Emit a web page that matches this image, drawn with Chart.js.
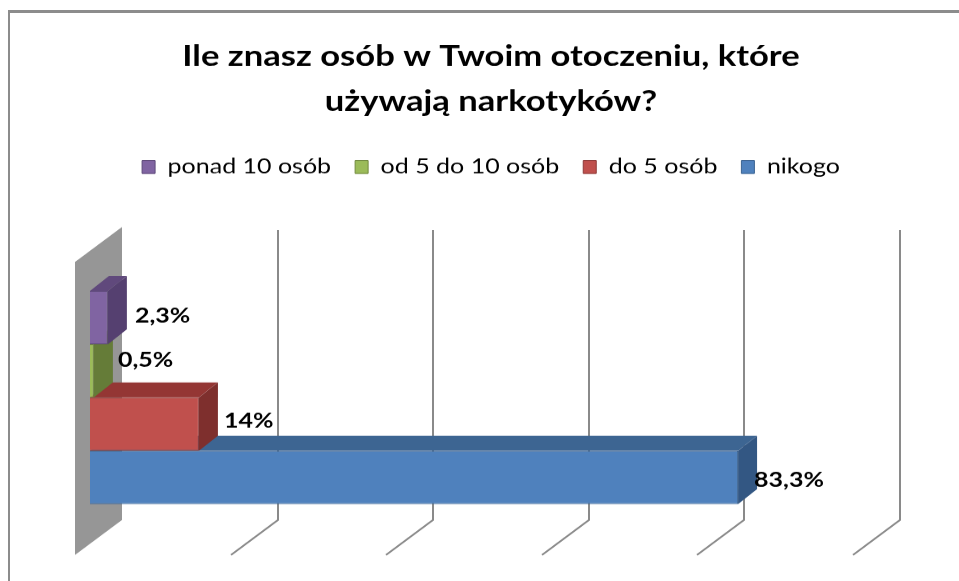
<!DOCTYPE html>
<html><head><meta charset="utf-8">
<script src="https://cdn.jsdelivr.net/npm/chart.js@4"></script>
<style>
html,body{margin:0;padding:0;background:#fff;width:959px;height:581px;overflow:hidden}
#frame{position:absolute;left:8px;top:10px;width:1000px;height:700px;border-top:3px solid #8c8c8c;border-left:2px solid #8c8c8c}
#c{position:absolute;left:0;top:0}
</style></head><body>
<div id="frame"></div>
<canvas id="c" width="959" height="697" style="width:959px;height:581px"></canvas>
<script>
const categories = [''];
const seriesNames = ['ponad 10 osób', 'od 5 do 10 osób', 'do 5 osób', 'nikogo'];
const ponad10 = [2.3];
const od5do10 = [0.5];
const do5 = [14];
const nikogo = [83.3];
const tickValues = [0, 20, 40, 60, 80, 100];
const titleLines = ['Ile znasz osób w Twoim otoczeniu, które', 'używają narkotyków?'];

const frontColors = ['#8064A2', '#9BBB59', '#C0504D', '#4F81BD'];
const topColors = ['#60497C', '#75903F', '#943634', '#3D6592'];
const sideColors = ['#554070', '#657C38', '#7E2F2D', '#335783'];
const edgeColors = ['#5E4A7A', '#71893F', '#8E3B39', '#3B6391'];

// canvas is drawn 1.2x taller and shown squeezed to 581px (original chart was stretched wide)
const K = 697 / 581;
const labelNudge = [[2, -2], [-1, -11], [0, -3], [-9, 3]];
const DX = 19, DY = 15 * K;
const FRONT = {x: -15, y: 11 * K}, BACK = {x: 32, y: -24 * K};

const TITLE_PAD_TOP = 41, TITLE_LINE = 54, LEG_FONT = 25, LEG_PAD = 24;
const TITLE_PAD_BOTTOM = 167 * K - (TITLE_PAD_TOP + 2 * TITLE_LINE + LEG_PAD + LEG_FONT / 2);
const LEGEND_BOTTOM = TITLE_PAD_TOP + 2 * TITLE_LINE + TITLE_PAD_BOTTOM + LEG_PAD + LEG_FONT + 10;

function fmt(v) { return String(v).replace('.', ',') + '%'; }

const depthPlugin = {
  id: 'depth3d',
  beforeDatasetsDraw(chart) {
    const ctx = chart.ctx, xs = chart.scales.x, a = chart.chartArea;
    const x0 = xs.getPixelForValue(tickValues[0]);
    ctx.save();
    ctx.fillStyle = '#969696';
    ctx.beginPath();
    ctx.moveTo(x0 + FRONT.x, a.top + FRONT.y);
    ctx.lineTo(x0 + BACK.x, a.top + BACK.y);
    ctx.lineTo(x0 + BACK.x, a.bottom + BACK.y);
    ctx.lineTo(x0 + FRONT.x, a.bottom + FRONT.y);
    ctx.closePath();
    ctx.fill();
    ctx.strokeStyle = '#8a8a8a';
    ctx.lineWidth = 2;
    tickValues.slice(1).forEach(v => {
      const x = Math.round(xs.getPixelForValue(v));
      ctx.beginPath();
      ctx.moveTo(x + BACK.x, a.top + BACK.y + 3 * K);
      ctx.lineTo(x + BACK.x, a.bottom + BACK.y);
      ctx.lineTo(x + FRONT.x, a.bottom + FRONT.y);
      ctx.stroke();
    });
    ctx.restore();
  },
  afterDatasetDraw(chart, args) {
    const ctx = chart.ctx, i = args.index;
    ctx.save();
    args.meta.data.forEach(el => {
      const p = el.getProps(['x', 'y', 'base', 'height'], true);
      const l = Math.min(p.x, p.base), r = Math.max(p.x, p.base);
      const t = p.y - p.height / 2, b = p.y + p.height / 2;
      ctx.fillStyle = topColors[i];
      ctx.beginPath();
      ctx.moveTo(l, t); ctx.lineTo(r, t); ctx.lineTo(r + DX, t - DY); ctx.lineTo(l + DX, t - DY);
      ctx.closePath(); ctx.fill();
      ctx.fillStyle = sideColors[i];
      ctx.beginPath();
      ctx.moveTo(r, t); ctx.lineTo(r + DX, t - DY); ctx.lineTo(r + DX, b - DY); ctx.lineTo(r, b);
      ctx.closePath(); ctx.fill();
    });
    ctx.restore();
  },
  afterDatasetsDraw(chart) {
    const ctx = chart.ctx;
    ctx.save();
    ctx.font = 'bold 25px Lato';
    ctx.fillStyle = '#000';
    ctx.textBaseline = 'middle';
    ctx.textAlign = 'left';
    chart.data.datasets.forEach((ds, i) => {
      const meta = chart.getDatasetMeta(i);
      meta.data.forEach((el, j) => {
        const p = el.getProps(['x', 'y', 'base'], true);
        const r = Math.max(p.x, p.base);
        ctx.fillText(fmt(ds.data[j]), r + DX + 6 + labelNudge[i][0], p.y + labelNudge[i][1] * K);
      });
    });
    ctx.restore();
  }
};

const seriesData = [ponad10, od5do10, do5, nikogo];
const datasets = seriesNames.map((n, i) => ({
  label: n,
  data: seriesData[i],
  backgroundColor: frontColors[i],
  borderColor: edgeColors[i],
  borderWidth: 1,
  barPercentage: 1,
  categoryPercentage: 0.727
}));

new Chart(document.getElementById('c'), {
  type: 'bar',
  data: { labels: categories, datasets },
  options: {
    indexAxis: 'y',
    responsive: false,
    animation: false,
    devicePixelRatio: 1,
    layout: { padding: { left: 90, right: 67, top: 0, bottom: 697 - 544 * K } },
    scales: {
      x: {
        position: 'top', min: 0, max: 100,
        ticks: { display: false, stepSize: 20 },
        grid: { display: false, drawTicks: false }, border: { display: false },
        afterFit(s) { s.height = 251 * K - LEGEND_BOTTOM; }
      },
      y: { display: false },
      y2: {
        position: 'right', display: true,
        ticks: { display: false }, grid: { display: false, drawTicks: false }, border: { display: false },
        afterFit(s) { s.width = 24; }
      }
    },
    plugins: {
      tooltip: { enabled: false },
      title: {
        display: true, text: titleLines, color: '#000',
        font: { family: 'Lato', size: 34.6, weight: 'bold', lineHeight: TITLE_LINE / 34.6 },
        padding: { top: TITLE_PAD_TOP, bottom: TITLE_PAD_BOTTOM }
      },
      legend: {
        display: true, position: 'top',
        labels: {
          color: '#000', font: { family: 'Lato', size: LEG_FONT },
          boxWidth: 13, boxHeight: 13 * K, padding: LEG_PAD
        }
      }
    }
  },
  plugins: [depthPlugin]
});
</script>
</body></html>
